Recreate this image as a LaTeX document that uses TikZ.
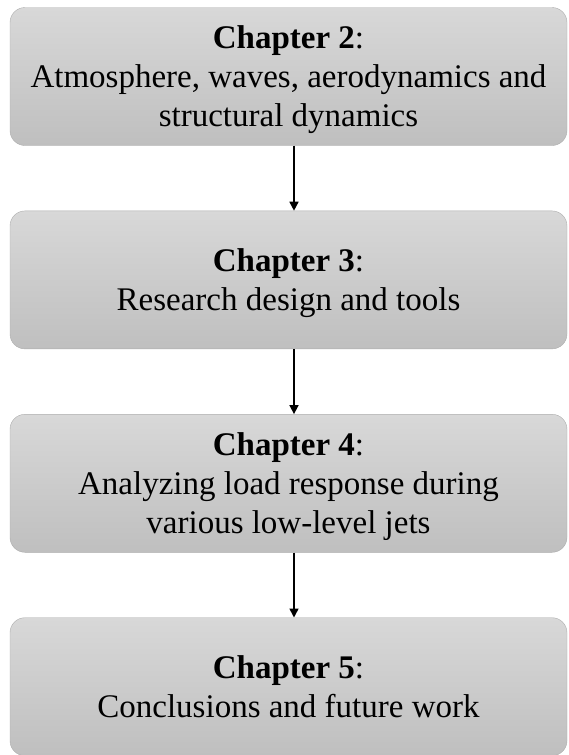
\documentclass[tikz,border=0pt]{standalone}
\usepackage{fontspec}
\setmainfont{Liberation Serif}
\usepackage{tikz}
\usetikzlibrary{positioning, arrows.meta}

\definecolor{boxtop}{HTML}{D8D8D8}
\definecolor{boxbottom}{HTML}{BFBFBF}
\definecolor{boxline}{HTML}{ACACAC}

\begin{document}
\begin{tikzpicture}[
    x=1pt, y=1pt,
    node distance=65pt,
    box/.style={
        draw=boxline,
        rounded corners=15pt,
        top color=boxtop,
        bottom color=boxbottom,
        align=center,
        text depth=0pt,
        minimum width=557pt,
        minimum height=138pt,
        font=\fontsize{33}{39}\selectfont
    },
    arrow/.style={-{Triangle[length=9pt,width=9pt]}, line width=1.6pt}
]

\useasboundingbox (0,0) rectangle (568,-755);

\node[box] (ch2) at (288.5,-76.5) {\textbf{Chapter 2}:\\Atmosphere, waves, aerodynamics and\\structural dynamics};
\node[box, below=of ch2] (ch3) {\textbf{Chapter 3}:\\Research design and tools};
\node[box, below=of ch3] (ch4) {\textbf{Chapter 4}:\\Analyzing load response during\\various low-level jets};
\node[box, below=of ch4] (ch5) {\textbf{Chapter 5}:\\Conclusions and future work};

\draw[arrow] ([xshift=5.5pt]ch2.south) -- ([xshift=5.5pt]ch3.north);
\draw[arrow] ([xshift=5.5pt]ch3.south) -- ([xshift=5.5pt]ch4.north);
\draw[arrow] ([xshift=5.5pt]ch4.south) -- ([xshift=5.5pt]ch5.north);

\end{tikzpicture}
\end{document}
